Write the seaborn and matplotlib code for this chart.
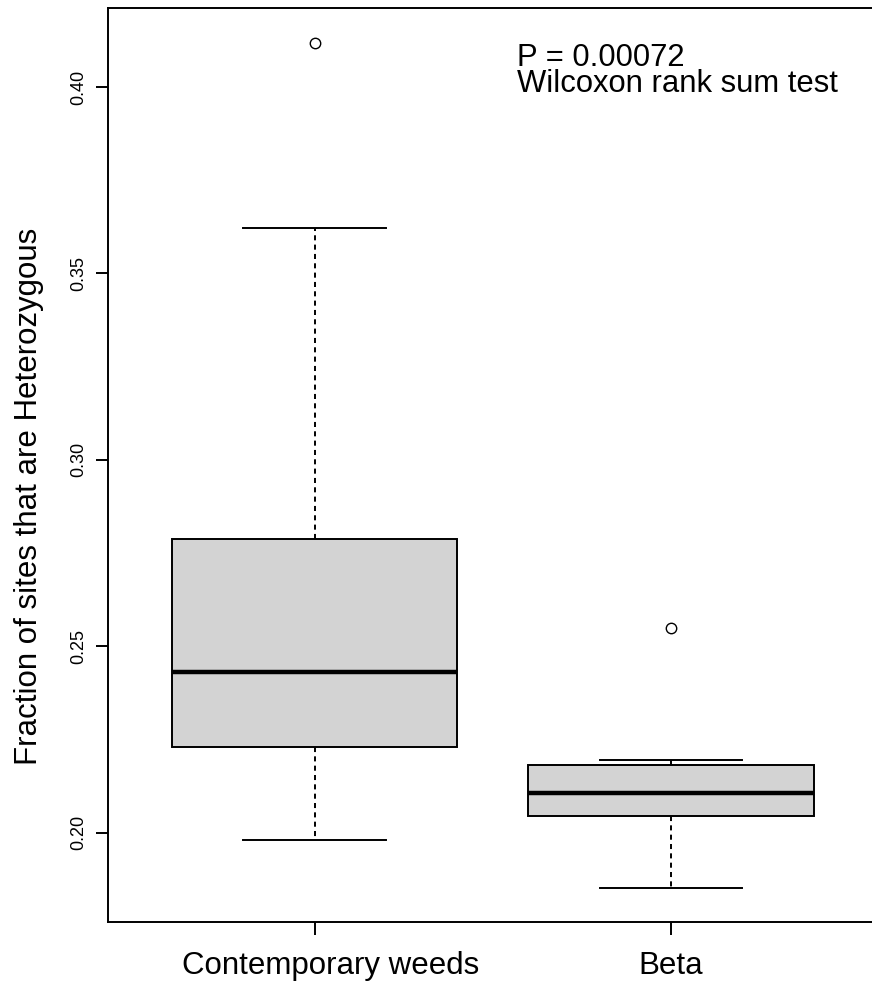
import matplotlib
matplotlib.use("Agg")
import matplotlib.pyplot as plt
import matplotlib.transforms as mtransforms
import pandas as pd
import seaborn as sns

# values
CATEGORIES = ["Contemporary weeds", "Beta"]
WEEDS = [0.1981, 0.2150, 0.2231, 0.2350, 0.2431, 0.2600, 0.2788, 0.3621, 0.4119]
BETA = [0.1851, 0.2010, 0.2046, 0.2080, 0.2106, 0.2150, 0.2183, 0.2196, 0.2549]
Y_TICKS = [0.20, 0.25, 0.30, 0.35, 0.40]
Y_LABEL = "Fraction of sites that are Heterozygous"
ANNOT = ["P = 0.00072", "Wilcoxon rank sum test"]


def main() -> None:
    df = pd.DataFrame(
        {
            "group": [CATEGORIES[0]] * len(WEEDS) + [CATEGORIES[1]] * len(BETA),
            "value": WEEDS + BETA,
        }
    )

    plt.rcParams["font.family"] = ["Liberation Sans", "DejaVu Sans"]

    fig = plt.figure(figsize=(8.72, 9.85), dpi=100)
    ax = fig.add_axes([0.1239, 0.0640, 0.8826, 0.9279])

    lw = 1.4
    sns.boxplot(
        data=df,
        x="group",
        y="value",
        order=CATEGORIES,
        color="#D3D3D3",
        saturation=1,
        width=0.8,
        linewidth=lw,
        linecolor="black",
        fliersize=7.5,
        whiskerprops=dict(linestyle=(0, (2.6, 2.2)), linewidth=lw),
        capprops=dict(linewidth=lw),
        medianprops=dict(linewidth=3.2, color="black"),
        flierprops=dict(marker="o", markerfacecolor="none",
                        markeredgecolor="black", markeredgewidth=1.0),
        ax=ax,
    )

    ax.set_xlim(-0.58, 1.58)
    ax.set_ylim(0.1761, 0.4212)

    for side in ["left", "right", "top", "bottom"]:
        ax.spines[side].set_visible(True)
        ax.spines[side].set_linewidth(lw)
        ax.spines[side].set_color("black")

    ax.set_yticks(Y_TICKS)
    ax.set_yticklabels([f"{t:.2f}" for t in Y_TICKS], fontsize=13)
    ax.tick_params(axis="y", labelrotation=90, length=9, width=lw, pad=6)
    for lbl in ax.get_yticklabels():
        lbl.set_va("center")
    ax.tick_params(axis="x", labelsize=22.5, length=9, width=lw, pad=12)

    # the first category label sits a little right of its tick in the reference
    first = ax.get_xticklabels()[0]
    first.set_transform(first.get_transform()
                        + mtransforms.ScaledTranslation(0.16, 0, fig.dpi_scale_trans))

    ax.set_xlabel("")
    ax.set_ylabel(Y_LABEL, fontsize=22.5)
    ax.yaxis.set_label_coords(-0.083, 0.466)

    ax.text(0.568, 0.4119, "\n".join(ANNOT), fontsize=22.3, va="top",
            ha="left", linespacing=0.82)

    fig.savefig("out.png", dpi=100)
    plt.close(fig)


if __name__ == "__main__":
    main()
